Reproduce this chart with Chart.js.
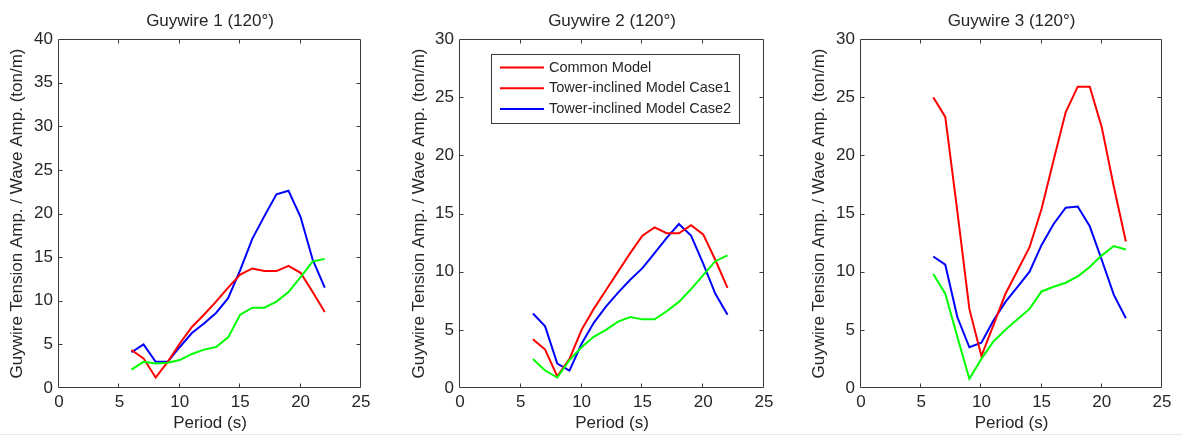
<!DOCTYPE html>
<html>
<head>
<meta charset="utf-8">
<script src="https://cdn.jsdelivr.net/npm/chart.js@4.4.1/dist/chart.umd.min.js"></script>
<style>
  html, body { margin: 0; padding: 0; background: #ffffff; }
  #wrap { position: relative; width: 1182px; height: 436px; overflow: hidden; }
  canvas { position: absolute; top: 0; }
  #rule { position: absolute; left: 0; top: 434px; width: 1182px; height: 1px; background: #e8e8e8; }
</style>
</head>
<body>
<div id="wrap">
  <canvas id="c1" width="390" height="436" style="left:0px"></canvas>
  <canvas id="c2" width="400" height="436" style="left:390px"></canvas>
  <canvas id="c3" width="392" height="436" style="left:790px"></canvas>
  <div id="rule"></div>
</div>
<script>
// Wave periods (s)
const periods = [6, 7, 8, 9, 10, 11, 12, 13, 14, 15, 16, 17, 18, 19, 20, 21, 22];

// Guywire 1 tension amplitude / wave amplitude (ton/m)
const guy1Red   = [4.35, 3.4, 1.2, 3.0, 5.1, 7.0, 8.4, 9.9, 11.5, 13.0, 13.7, 13.4, 13.4, 14.0, 13.2, 11.0, 8.7];
const guy1Blue  = [4.1, 5.0, 3.0, 3.0, 4.7, 6.3, 7.4, 8.6, 10.3, 13.5, 17.1, 19.7, 22.2, 22.6, 19.6, 14.7, 11.5];
const guy1Green = [2.1, 3.0, 2.8, 2.9, 3.2, 3.9, 4.4, 4.7, 5.8, 8.4, 9.2, 9.2, 9.9, 11.0, 12.7, 14.5, 14.8];

// Guywire 2
const guy2Red   = [4.2, 3.3, 1.0, 2.5, 5.0, 6.8, 8.4, 10.0, 11.6, 13.1, 13.8, 13.3, 13.3, 14.0, 13.2, 11.0, 8.6];
const guy2Blue  = [6.4, 5.3, 2.1, 1.5, 3.8, 5.6, 7.0, 8.2, 9.3, 10.3, 11.6, 12.9, 14.1, 13.1, 10.7, 8.1, 6.3];
const guy2Green = [2.5, 1.5, 0.9, 2.4, 3.5, 4.4, 5.0, 5.7, 6.1, 5.9, 5.9, 6.6, 7.4, 8.5, 9.7, 10.9, 11.4];

// Guywire 3
const guy3Red   = [25.0, 23.3, 15.2, 6.8, 2.75, 5.4, 8.1, 10.1, 12.1, 15.4, 19.6, 23.7, 25.9, 25.9, 22.4, 17.3, 12.6];
const guy3Blue  = [11.3, 10.6, 6.1, 3.5, 3.9, 5.8, 7.4, 8.7, 10.0, 12.3, 14.1, 15.5, 15.6, 13.9, 11.0, 8.0, 6.0];
const guy3Green = [9.8, 8.1, 4.4, 0.8, 2.5, 4.0, 5.0, 5.9, 6.8, 8.3, 8.7, 9.05, 9.6, 10.4, 11.4, 12.2, 11.9];

// Panel titles and axis text
const panelTitles = ['Guywire 1 (120°)', 'Guywire 2 (120°)', 'Guywire 3 (120°)'];
const xTitle = 'Period (s)';
const yTitle = 'Guywire Tension Amp. / Wave Amp. (ton/m)';
const yMaxima = [40, 30, 30];

// Legend entries (shown in the middle panel)
const legendLabels = ['Common Model', 'Tower-inclined Model Case1', 'Tower-inclined Model Case2'];
const legendColors = ['#ff0000', '#ff0000', '#0000ff'];

const FONT = 'Liberation Sans, Arial, Helvetica, sans-serif';
const TEXT = '#262626';
const AXIS = '#3c3c3c';

const toPoints = (ys) => periods.map((p, i) => ({ x: p, y: ys[i] }));

// Box around the axes with inward tick marks on all four sides
const framePlugin = {
  id: 'frame',
  afterDatasetsDraw(chart) {
    const { ctx, chartArea: a, scales: { x, y } } = chart;
    const L = Math.round(a.left) - 0.5, R = Math.round(a.right) - 0.5;
    const T = Math.round(a.top) + 0.5, B = Math.round(a.bottom) - 0.5;
    const len = 4;
    ctx.save();
    ctx.strokeStyle = AXIS;
    ctx.lineWidth = 1;
    ctx.beginPath();
    ctx.rect(L, T, R - L, B - T);
    x.ticks.forEach(t => {
      const px = Math.round(x.getPixelForValue(t.value)) - 0.5;
      if (px <= L + 1 || px >= R - 1) return;
      ctx.moveTo(px, B); ctx.lineTo(px, B - len);
      ctx.moveTo(px, T); ctx.lineTo(px, T + len);
    });
    y.ticks.forEach(t => {
      const py = Math.round(y.getPixelForValue(t.value)) + 0.5;
      if (py <= T + 1 || py >= B - 1) return;
      ctx.moveTo(L, py); ctx.lineTo(L + len, py);
      ctx.moveTo(R, py); ctx.lineTo(R - len, py);
    });
    ctx.stroke();
    ctx.restore();
  }
};

// Title centred over the plotting area
const titlePlugin = {
  id: 'panelTitle',
  afterDraw(chart, args, opts) {
    const { ctx, chartArea: a } = chart;
    ctx.save();
    ctx.font = '17px ' + FONT;
    ctx.fillStyle = TEXT;
    ctx.textAlign = 'center';
    ctx.textBaseline = 'middle';
    ctx.fillText(opts.text, (a.left + a.right) / 2, 21);
    ctx.restore();
  }
};

// Boxed legend inside the plotting area
const boxLegendPlugin = {
  id: 'boxLegend',
  afterDraw(chart, args, opts) {
    if (!opts.show) return;
    const { ctx, chartArea: a } = chart;
    const left = Math.round(a.left) + 31, top = Math.round(a.top) + 15;
    const w = 248, h = 69;
    ctx.save();
    ctx.fillStyle = '#ffffff';
    ctx.fillRect(left, top, w, h);
    ctx.strokeStyle = AXIS;
    ctx.lineWidth = 1;
    ctx.strokeRect(left + 0.5, top + 0.5, w, h);
    ctx.font = '14.5px ' + FONT;
    ctx.textBaseline = 'middle';
    ctx.textAlign = 'left';
    legendLabels.forEach((lab, i) => {
      const cy = top + 13.5 + i * 20.7;
      ctx.strokeStyle = legendColors[i];
      ctx.lineWidth = 2;
      ctx.beginPath();
      ctx.moveTo(left + 9, cy);
      ctx.lineTo(left + 53, cy);
      ctx.stroke();
      ctx.fillStyle = TEXT;
      ctx.fillText(lab, left + 58, cy);
    });
    ctx.restore();
  }
};

function makePanel(id, idx, red, blue, green, areaLeft, padRight, yTitlePad) {
  const line = (label, color, ys) => ({
    label, data: toPoints(ys), borderColor: color, backgroundColor: color,
    borderWidth: 2, pointRadius: 0, tension: 0, fill: false
  });
  new Chart(document.getElementById(id), {
    type: 'line',
    data: {
      datasets: [
        line('Common Model', '#00ff00', green),
        line('Tower-inclined Model Case1', '#ff0000', red),
        line('Tower-inclined Model Case2', '#0000ff', blue)
      ]
    },
    options: {
      responsive: false,
      animation: false,
      devicePixelRatio: 1,
      layout: { padding: { top: 39, right: padRight, left: 0, bottom: 0 } },
      plugins: {
        legend: { display: false },
        tooltip: { enabled: false },
        title: { display: false },
        panelTitle: { text: panelTitles[idx] },
        boxLegend: { show: idx === 1 }
      },
      scales: {
        x: {
          type: 'linear', min: 0, max: 25,
          grid: { display: false, drawTicks: false },
          border: { display: false },
          ticks: { stepSize: 5, padding: 4, color: TEXT, font: { family: FONT, size: 17 } },
          title: { display: true, text: xTitle, color: TEXT, font: { family: FONT, size: 17 }, padding: { top: 0, bottom: 2 } },
          afterFit(s) { s.height = 48; }
        },
        y: {
          type: 'linear', min: 0, max: yMaxima[idx],
          grid: { display: false, drawTicks: false },
          border: { display: false },
          ticks: { stepSize: 5, padding: 6, color: TEXT, font: { family: FONT, size: 17 } },
          title: { display: true, text: yTitle, color: TEXT, font: { family: FONT, size: 17 }, padding: { top: yTitlePad, bottom: 0 } },
          afterFit(s) { s.width = areaLeft; }
        }
      }
    },
    plugins: [framePlugin, titlePlugin, boxLegendPlugin]
  });
}

makePanel('c1', 0, guy1Red, guy1Blue, guy1Green, 59, 29, 7);
makePanel('c2', 1, guy2Red, guy2Blue, guy2Green, 70, 26, 19);
makePanel('c3', 2, guy3Red, guy3Blue, guy3Green, 71, 20, 19);
</script>
</body>
</html>
